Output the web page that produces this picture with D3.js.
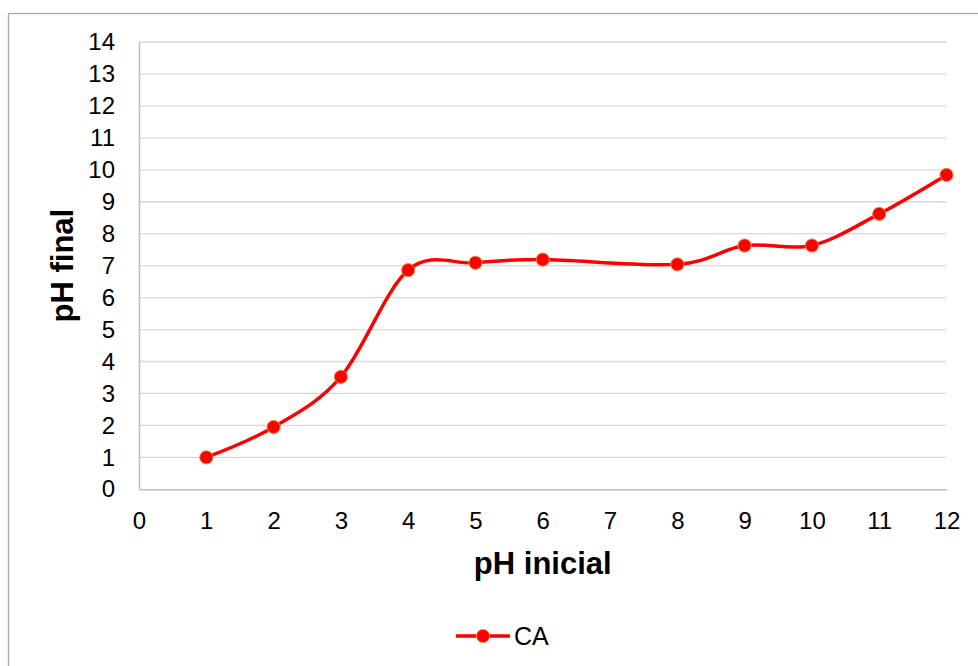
<!DOCTYPE html>
<html>
<head>
<meta charset="utf-8">
<script src="https://cdn.jsdelivr.net/npm/d3@7"></script>
<style>
  html, body { margin: 0; padding: 0; background: #fff; }
  svg { display: block; font-family: "Liberation Sans", Arial, sans-serif; }
</style>
</head>
<body>
<svg id="chart" width="978" height="666"></svg>
<script>
// pH inicial (x) vs pH final (y) for series CA
const phInicial = [1, 2, 3, 4, 5, 6, 8, 9, 10, 11, 12];
const phFinal   = [1.0, 1.95, 3.52, 6.86, 7.09, 7.19, 7.04, 7.63, 7.63, 8.62, 9.84];
const xTicks = [0, 1, 2, 3, 4, 5, 6, 7, 8, 9, 10, 11, 12];
const yTicks = [0, 1, 2, 3, 4, 5, 6, 7, 8, 9, 10, 11, 12, 13, 14];
const seriesName = "CA";
const xTitle = "pH inicial";
const yTitle = "pH final";

const svg = d3.select("#chart");
const W = 978, H = 666;
const plot = { left: 139, right: 946.5, top: 42, bottom: 489.3 };

const x = d3.scaleLinear().domain([0, 12]).range([plot.left, plot.right]);
const y = d3.scaleLinear().domain([0, 14]).range([plot.bottom, plot.top]);

// chart frame
svg.append("rect")
  .attr("x", 8.5).attr("y", 13.5)
  .attr("width", W + 20).attr("height", H + 20)
  .attr("fill", "#fff")
  .attr("stroke", "#a6a6a6").attr("stroke-width", 1.3);

// horizontal gridlines
svg.append("g")
  .selectAll("line")
  .data(yTicks.filter(d => d > 0))
  .join("line")
  .attr("x1", plot.left).attr("x2", plot.right)
  .attr("y1", d => y(d)).attr("y2", d => y(d))
  .attr("stroke", "#d9d9d9").attr("stroke-width", 1.3);

// axes
const tickFont = "24px";
const yAxis = svg.append("g")
  .attr("transform", `translate(${plot.left},0)`)
  .call(d3.axisLeft(y).tickValues(yTicks).tickSize(0).tickPadding(24).tickFormat(d3.format("d")));
const xAxis = svg.append("g")
  .attr("transform", `translate(0,${plot.bottom})`)
  .call(d3.axisBottom(x).tickValues(xTicks).tickSize(0).tickPadding(23).tickFormat(d3.format("d")));

[xAxis, yAxis].forEach(g => {
  g.select(".domain").attr("stroke", "#bfbfbf").attr("stroke-width", 1.5);
  g.selectAll("text").attr("fill", "#000").style("font-size", tickFont)
    .style("font-family", '"Liberation Sans", Arial, sans-serif');
});

// axis titles
svg.append("text")
  .attr("x", (plot.left + plot.right) / 2).attr("y", 574)
  .attr("text-anchor", "middle")
  .style("font-size", "31px").style("font-weight", "bold")
  .text(xTitle);

svg.append("text")
  .attr("transform", `translate(73,${(plot.top + plot.bottom) / 2}) rotate(-90)`)
  .attr("text-anchor", "middle")
  .style("font-size", "31px").style("font-weight", "bold")
  .text(yTitle);

// smoothed series line
const pts = phInicial.map((v, i) => [v, phFinal[i]]);
const line = d3.line()
  .x(d => x(d[0])).y(d => y(d[1]))
  .curve(d3.curveCatmullRom.alpha(0));

svg.append("path")
  .datum(pts)
  .attr("d", line)
  .attr("fill", "none")
  .attr("stroke", "#ff0000").attr("stroke-width", 3.5)
  .attr("stroke-linejoin", "round").attr("stroke-linecap", "round");

svg.append("g")
  .selectAll("circle")
  .data(pts)
  .join("circle")
  .attr("cx", d => x(d[0])).attr("cy", d => y(d[1]))
  .attr("r", 6.6)
  .attr("fill", "#ff0000")
  .attr("stroke", "#f08c3c").attr("stroke-width", 1);

// legend
const lg = svg.append("g");
lg.append("line")
  .attr("x1", 456).attr("x2", 510).attr("y1", 636).attr("y2", 636)
  .attr("stroke", "#ff0000").attr("stroke-width", 3.5);
lg.append("circle")
  .attr("cx", 483).attr("cy", 636).attr("r", 6.6)
  .attr("fill", "#ff0000")
  .attr("stroke", "#f08c3c").attr("stroke-width", 1);
lg.append("text")
  .attr("x", 514).attr("y", 645)
  .style("font-size", "25px")
  .text(seriesName);
</script>
</body>
</html>
